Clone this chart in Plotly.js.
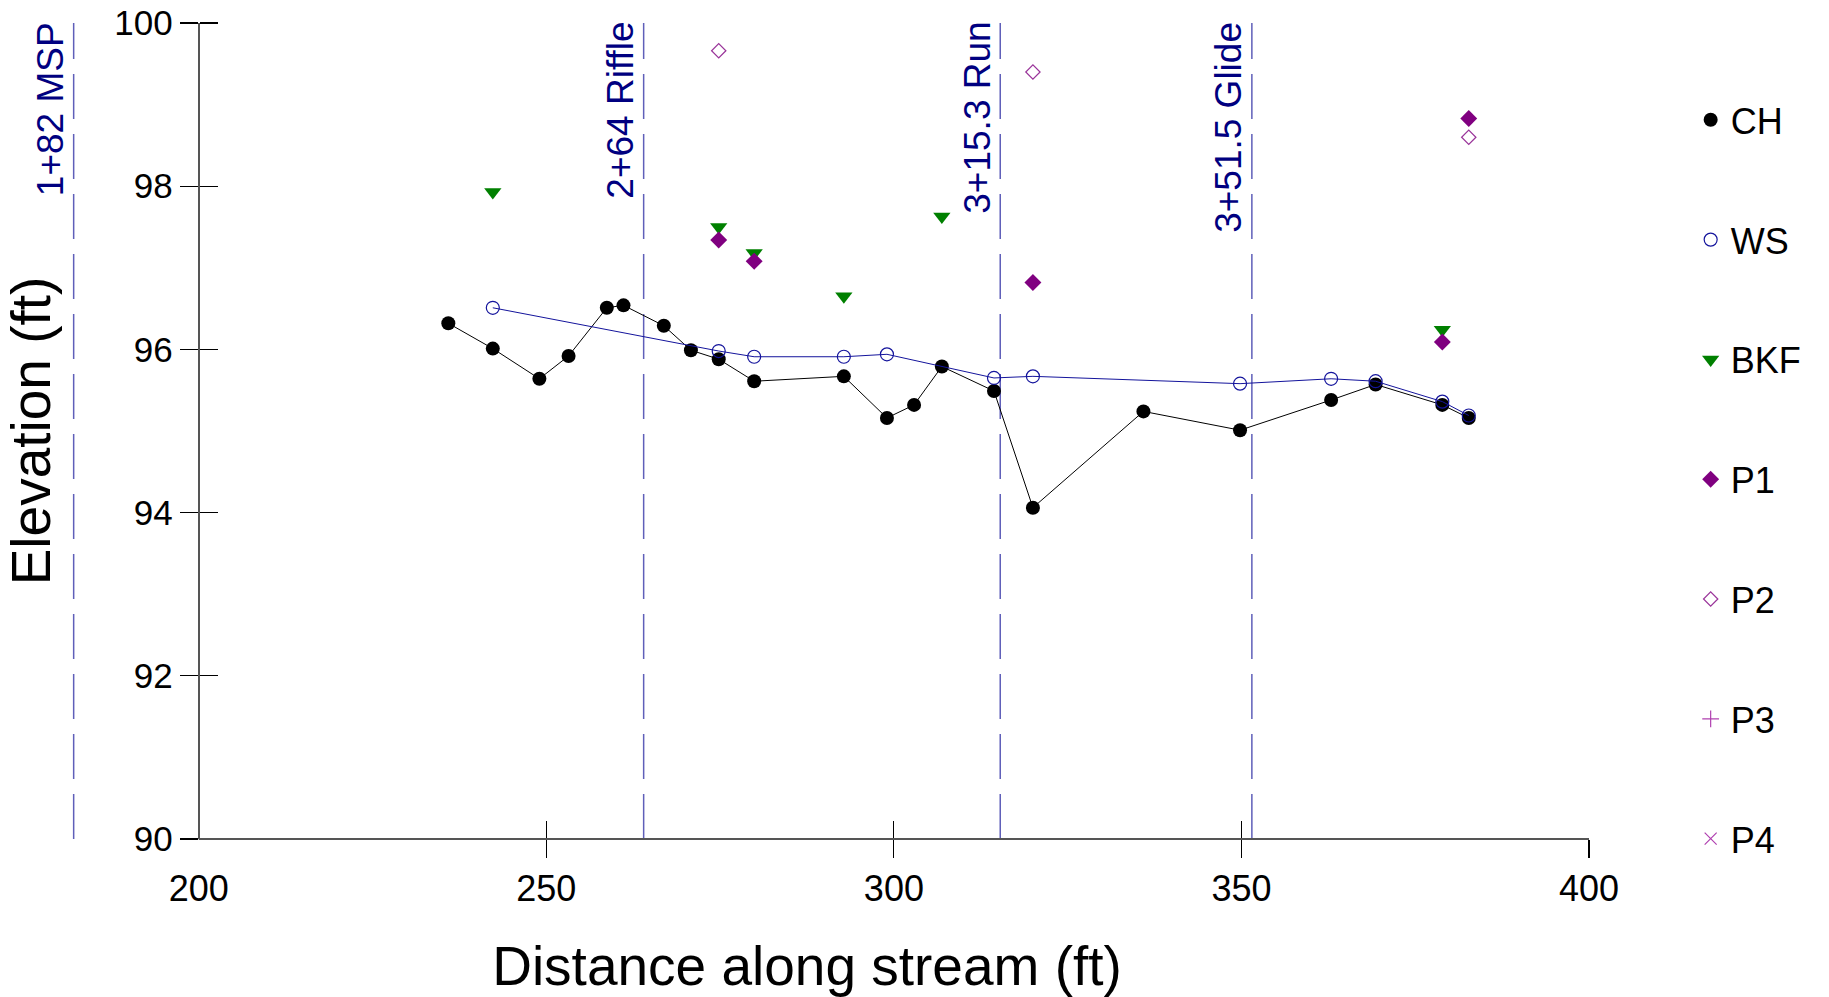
<!DOCTYPE html>
<html><head><meta charset="utf-8">
<script src="https://cdn.plot.ly/plotly-3.0.1.min.js"></script>
<style>html,body{margin:0;padding:0;background:#fff}#chart{width:1829px;height:997px}</style>
</head><body><div id="chart"></div>
<script>
// ---- data ----
const xRange = [175, 400];
const yRange = [90, 100];
const axisStart = 200;
const xTickVals = [200, 250, 300, 350, 400];
const yTickVals = [90, 92, 94, 96, 98, 100];

const chX = [235.9, 242.3, 249.0, 253.2, 258.7, 261.1, 266.9, 270.8, 274.8, 279.9, 292.8, 299.0, 302.9, 306.9, 314.4, 320.0, 335.9, 349.8, 362.9, 369.3, 378.9, 382.7];
const chY = [96.32, 96.01, 95.64, 95.92, 96.51, 96.54, 96.29, 95.99, 95.88, 95.61, 95.67, 95.16, 95.32, 95.79, 95.49, 94.06, 95.24, 95.01, 95.38, 95.57, 95.32, 95.16];

const wsX = [242.3, 274.8, 279.9, 292.8, 299.0, 314.4, 320.0, 349.8, 362.9, 369.3, 378.9, 382.7];
const wsY = [96.51, 95.98, 95.91, 95.91, 95.94, 95.65, 95.67, 95.58, 95.64, 95.61, 95.36, 95.19];

const bkfX = [242.3, 274.8, 279.9, 292.8, 306.9, 378.9];
const bkfY = [97.93, 97.50, 97.18, 96.65, 97.63, 96.24];

const p1X = [274.8, 279.9, 320.0, 378.9, 382.7];
const p1Y = [97.34, 97.08, 96.82, 96.09, 98.83];

const p2X = [274.8, 320.0, 382.7];
const p2Y = [99.66, 99.40, 98.60];

// P3 and P4 have no surveyed values (legend entries only)
const p3X = [null];
const p3Y = [null];
const p4X = [null];
const p4Y = [null];

const stationX = [182, 264, 315.3, 351.5];
const stationLabels = ['1+82 MSP', '2+64 Riffle', '3+15.3 Run', '3+51.5 Glide'];

// ---- styling ----
const FONT = 'Liberation Sans, Arial, Helvetica, sans-serif';
const yPos = (axisStart - xRange[0]) / (xRange[1] - xRange[0]);

const traces = [
  {x: chX, y: chY, mode: 'lines', line: {color: '#000', width: 1}, showlegend: false, legendgroup: 'CH', hoverinfo: 'skip'},
  {x: chX, y: chY, mode: 'markers', name: 'CH', legendgroup: 'CH', marker: {symbol: 'circle', size: 14, color: '#000'}},
  {x: wsX, y: wsY, mode: 'lines', line: {color: '#14149c', width: 1}, showlegend: false, legendgroup: 'WS', hoverinfo: 'skip'},
  {x: wsX, y: wsY, mode: 'markers', name: 'WS', legendgroup: 'WS', marker: {symbol: 'circle-open', size: 13, color: '#14149c', line: {width: 1.2}}},
  {x: bkfX, y: bkfY, mode: 'markers', name: 'BKF', legendgroup: 'BKF', marker: {symbol: 'triangle-down', size: 15, color: '#008000'}},
  {x: p1X, y: p1Y, mode: 'markers', name: 'P1', legendgroup: 'P1', marker: {symbol: 'diamond', size: 13, color: '#800080'}},
  {x: p2X, y: p2Y, mode: 'markers', name: 'P2', legendgroup: 'P2', marker: {symbol: 'diamond-open', size: 11, color: '#993399', line: {width: 1.2}}},
  {x: p3X, y: p3Y, mode: 'markers', name: 'P3', legendgroup: 'P3', marker: {symbol: 'cross-thin-open', size: 12, color: '#b040b0', line: {width: 1.2}}},
  {x: p4X, y: p4Y, mode: 'markers', name: 'P4', legendgroup: 'P4', marker: {symbol: 'x-thin-open', size: 12, color: '#b040b0', line: {width: 1.2}}},
  {x: [null], y: [null], xaxis: 'x2', yaxis: 'y2', mode: 'markers', showlegend: false, hoverinfo: 'skip'},
  {x: [null], y: [null], xaxis: 'x3', yaxis: 'y2', mode: 'markers', showlegend: false, hoverinfo: 'skip'}
];

const shapes = stationX.map(s => ({
  type: 'line', xref: 'x', yref: 'paper', x0: s, x1: s, y0: 0, y1: 1,
  line: {color: 'rgb(95,95,185)', width: 1.5, dash: '45px,15px'}, layer: 'below'
}));
shapes.push({type: 'line', xref: 'x', yref: 'paper', x0: axisStart, x1: xRange[1], y0: 0, y1: 0,
  line: {color: '#555', width: 2}});

const annotations = stationX.map((s, i) => ({
  x: s, xref: 'x', y: 1, yref: 'paper', text: stationLabels[i], showarrow: false,
  textangle: -90, xanchor: 'right', yanchor: 'top', xshift: -1, yshift: 3,
  font: {family: FONT, size: 37, color: '#000080'}
}));

const tickCommon = {showgrid: false, zeroline: false, fixedrange: true};

const layout = {
  width: 1829, height: 997,
  margin: {l: 25, r: 240, t: 23, b: 158},
  paper_bgcolor: '#fff', plot_bgcolor: '#fff',
  font: {family: FONT, color: '#000'},
  showlegend: true,
  legend: {x: 1.065, y: 0.918, xanchor: 'left', yanchor: 'top', traceorder: 'grouped',
    tracegroupgap: 70, itemsizing: 'trace', bgcolor: 'rgba(0,0,0,0)',
    font: {family: FONT, size: 36, color: '#000'}},
  xaxis: Object.assign({}, tickCommon, {
    range: xRange, anchor: 'y', tickmode: 'array', tickvals: xTickVals,
    ticks: 'outside', ticklen: 18, tickcolor: 'rgba(0,0,0,0)', showline: false,
    tickfont: {family: FONT, size: 36},
    title: {text: 'Distance along stream (ft)', font: {family: FONT, size: 55}, standoff: 38}
  }),
  xaxis2: Object.assign({}, tickCommon, {
    range: xRange, overlaying: 'x', anchor: 'y', tickmode: 'array', tickvals: xTickVals.slice(1),
    ticks: 'inside', ticklen: 18, tickcolor: '#000', tickwidth: 1.2, showticklabels: false, showline: false
  }),
  xaxis3: Object.assign({}, tickCommon, {
    range: xRange, overlaying: 'x', anchor: 'y', tickmode: 'array', tickvals: xTickVals.slice(1),
    ticks: 'outside', ticklen: 18, tickcolor: '#000', tickwidth: 1.2, showticklabels: false, showline: false
  }),
  yaxis: Object.assign({}, tickCommon, {
    range: yRange, anchor: 'free', position: yPos, tickmode: 'array', tickvals: yTickVals,
    ticks: 'outside', ticklen: 18, tickcolor: '#000', tickwidth: 1.2,
    showline: true, linecolor: '#555', linewidth: 2,
    tickfont: {family: FONT, size: 35},
    title: {text: 'Elevation (ft)', font: {family: FONT, size: 55}, standoff: 54}
  }),
  yaxis2: Object.assign({}, tickCommon, {
    range: yRange, overlaying: 'y', side: 'right', anchor: 'free', position: yPos, tickmode: 'array', tickvals: yTickVals,
    ticks: 'outside', ticklen: 18, tickcolor: '#000', tickwidth: 1.2, showticklabels: false, showline: false
  }),
  shapes: shapes,
  annotations: annotations
};

Plotly.newPlot('chart', traces, layout, {displayModeBar: false, staticPlot: true});
</script>
</body></html>
